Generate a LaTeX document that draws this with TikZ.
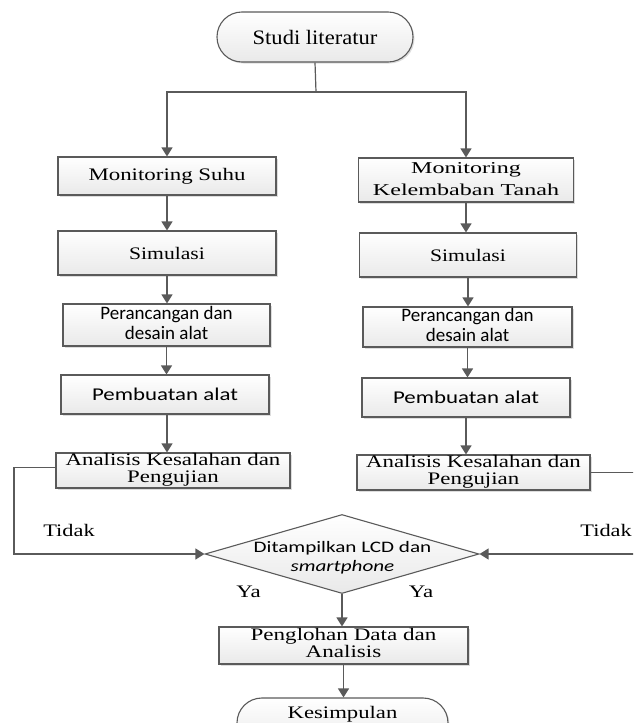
\documentclass[tikz,border=0pt]{standalone}
\usepackage{fontspec}
\setmainfont{Liberation Serif}
\newfontfamily\calfont{Carlito}
\usepackage{graphicx}
\usetikzlibrary{arrows.meta,shapes.geometric,shadows,calc}
\definecolor{edge}{HTML}{5A5A5A}
\definecolor{boxbot}{HTML}{E9E9E9}
\newcommand\sx[2]{\scalebox{#1}[1]{#2}}
\newcommand\twol[2]{\begin{tabular}{@{}c@{}}#1\\#2\end{tabular}}
\begin{document}
\begin{tikzpicture}[x=1pt,y=-1pt,
  box/.style={draw=edge, line width=1.1pt, top color=white, bottom color=boxbot, inner sep=0pt,
    drop shadow={shadow xshift=1.5pt, shadow yshift=-1.5pt, opacity=0.22, fill=black!60}},
  term/.style={box, rounded corners=24.9pt},
  tnr/.style={font=\fontsize{17.6}{17}\selectfont},
  cal/.style={font=\calfont\fontsize{19}{20}\selectfont},
  line/.style={draw=edge, line width=1.2pt},
  arr/.style={line, -{Triangle[length=9pt,width=11pt]}},
  lbl/.style={tnr, inner sep=0pt}]
\useasboundingbox (0,0) rectangle (633,723);
\clip (0,0) rectangle (633,723);

% top terminator
\node[term, minimum width=196pt, minimum height=50pt, font=\fontsize{20.5}{20}\selectfont] (studi) at (315,37) {\sx{1.1}{Studi literatur}};

% left column
\node[box, tnr, minimum width=218pt, minimum height=38pt] (ms) at (167,176) {\sx{1.3}{Monitoring Suhu}};
\node[box, tnr, minimum width=218pt, minimum height=44pt] (sl) at (167,253) {\sx{1.23}{Simulasi}};
\node[box, cal, minimum width=207pt, minimum height=42pt] (pl) at (166.5,325) {\twol{Perancangan dan}{desain alat}};
\node[box, cal, font=\calfont\fontsize{18}{20}\selectfont, minimum width=208pt, minimum height=39pt] (bl) at (165,394.5) {\sx{1.27}{Pembuatan alat}};
\node[box, tnr, minimum width=234pt, minimum height=35pt] (al) at (173,470.5) {\sx{1.3}{\twol{Analisis Kesalahan dan}{Pengujian}}};

% right column
\node[box, font=\fontsize{16.6}{22}\selectfont, minimum width=215pt, minimum height=40pt] (mk) at (466,180) {\sx{1.45}{\twol{Monitoring}{Kelembaban Tanah}}};
\node[box, tnr, minimum width=217pt, minimum height=44pt] (sr) at (468,255) {\sx{1.23}{Simulasi}};
\node[box, cal, minimum width=209pt, minimum height=40pt] (pr) at (467.5,327) {\twol{Perancangan dan}{desain alat}};
\node[box, cal, font=\calfont\fontsize{18}{20}\selectfont, minimum width=208pt, minimum height=39pt] (br) at (466,397.5) {\sx{1.27}{Pembuatan alat}};
\node[box, tnr, minimum width=233pt, minimum height=35pt] (ar) at (473.5,472.5) {\sx{1.3}{\twol{Analisis Kesalahan dan}{Pengujian}}};

% decision
\node[diamond, draw=edge, line width=1.1pt, top color=white, bottom color=boxbot, inner sep=0pt,
      minimum width=274pt, minimum height=79pt, aspect=3.47] (dia) at (342,554) {};
\node[font=\calfont\fontsize{16}{19}\selectfont, inner sep=0pt] (diat) at (342.5,558) {\sx{1.32}{\twol{Ditampilkan LCD dan}{\itshape smartphone}}};

% bottom
\node[box, tnr, minimum width=249pt, minimum height=37pt] (pen) at (343.5,645.5) {\sx{1.31}{\twol{Penglohan Data dan}{Analisis}}};
\node[term, minimum width=211pt, minimum height=50pt] (kes) at (342.5,723) {};
\node[tnr, inner sep=0pt] (kest) at ([yshift=9pt]kes.center) {\sx{1.29}{Kesimpulan}};

% labels
\node[lbl] (tl) at (69,530) {\sx{1.27}{Tidak}};
\node[lbl, anchor=east] (tr) at (632,530) {\sx{1.27}{Tidak}};
\node[lbl] (yl) at (248.5,592) {\sx{1.3}{Ya}};
\node[lbl] (yr) at (421,592) {\sx{1.3}{Ya}};

% connectors
\coordinate (split) at (316,92);
\draw[line] (studi.south) -- (split);
\draw[arr] (split) -| (ms.north);
\draw[arr] (split) -| (mk.north);
\draw[arr] (ms.south) -- (ms.south |- sl.north);
\draw[arr] (sl.south) -- (sl.south |- pl.north);
\draw[arr] (pl.south) -- (pl.south |- bl.north);
\draw[arr] (bl.south -| ms.south) -- (ms.south |- al.north);
\draw[arr] (mk.south) -- (mk.south |- sr.north);
\draw[arr] (sr.south) -- (sr.south |- pr.north);
\draw[arr] (pr.south) -- (pr.south |- br.north);
\draw[arr] (br.south) -- (br.south |- ar.north);
\coordinate (loopL) at (14,554);
\coordinate (loopR) at (640,554);
\draw[arr] ([yshift=3pt]al.west) -| (loopL) -- (dia.west);
\draw[arr] (ar.east) -| (loopR) -- (dia.east);
\draw[arr] (dia.south) -- (dia.south |- pen.north);
\draw[arr] (pen.south) -- (pen.south |- kes.north);
\end{tikzpicture}
\end{document}
